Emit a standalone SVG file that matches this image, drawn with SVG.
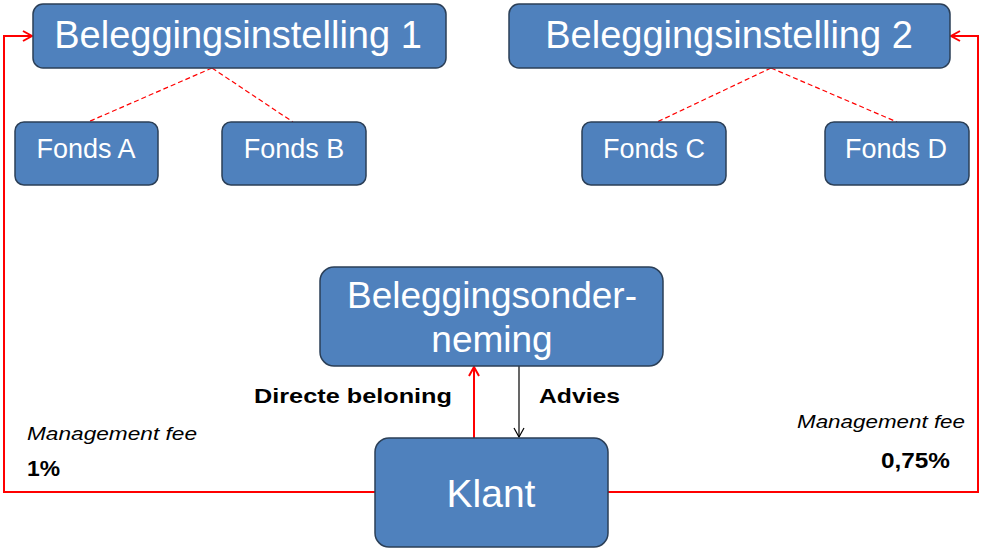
<svg xmlns="http://www.w3.org/2000/svg" width="982" height="549" viewBox="0 0 982 549">
<style>
.box{fill:#4F81BD;stroke:#2B3F57;stroke-width:1.5}
.t{fill:#fff;font-family:"Liberation Sans",Arial,sans-serif;text-anchor:middle}
.lbl{fill:#000;font-family:"Liberation Sans",Arial,sans-serif}
.red{fill:none;stroke:#FF0000;stroke-width:2}
.dash{fill:none;stroke:#FF0000;stroke-width:1.2;stroke-dasharray:5,3}
</style>
<defs>
<marker id="ar" markerWidth="12" markerHeight="12" refX="10" refY="6" orient="auto" markerUnits="userSpaceOnUse"><path d="M1,1 L10,6 L1,11" fill="none" stroke="#FF0000" stroke-width="2"/></marker>
<marker id="ab" markerWidth="12" markerHeight="12" refX="10" refY="6" orient="auto" markerUnits="userSpaceOnUse"><path d="M1,1 L10,6 L1,11" fill="none" stroke="#000" stroke-width="1.2"/></marker>
</defs>
<rect width="982" height="549" fill="#fff"/>
<g id="connectors">
<line class="dash" x1="212" y1="68" x2="88" y2="122"/>
<line class="dash" x1="212" y1="68" x2="293" y2="122"/>
<line class="dash" x1="771" y1="68" x2="657" y2="122"/>
<line class="dash" x1="771" y1="68" x2="897" y2="122"/>
<polyline class="red" points="375,492 4,492 4,36 32,36" marker-end="url(#ar)"/>
<polyline class="red" points="608,492 978,492 978,36 951,36" marker-end="url(#ar)"/>
<line class="red" x1="474" y1="438" x2="474" y2="367" marker-end="url(#ar)"/>
<line x1="519" y1="366" x2="519" y2="437" stroke="#000" stroke-width="1.2" marker-end="url(#ab)"/>
</g>
<g id="belegginsinstelling1"><rect class="box" x="33" y="4" width="413" height="64" rx="10"/><text class="t" x="238" y="48" font-size="38">Beleggingsinstelling  1</text></g>
<g id="belegginsinstelling2"><rect class="box" x="509" y="4" width="441" height="64" rx="10"/><text class="t" x="729" y="48" font-size="38">Beleggingsinstelling  2</text></g>
<g id="fondsA"><rect class="box" x="15" y="122" width="143" height="63" rx="9"/><text class="t" x="86" y="158" font-size="27">Fonds A</text></g>
<g id="fondsB"><rect class="box" x="222" y="122" width="144" height="63" rx="9"/><text class="t" x="294" y="158" font-size="27">Fonds B</text></g>
<g id="fondsC"><rect class="box" x="582" y="122" width="144" height="63" rx="9"/><text class="t" x="654" y="158" font-size="27">Fonds C</text></g>
<g id="fondsD"><rect class="box" x="825" y="122" width="144" height="63" rx="9"/><text class="t" x="896" y="158" font-size="27">Fonds D</text></g>
<g id="beleggingsonderneming"><rect class="box" x="320" y="267" width="343" height="99" rx="14"/><text class="t" x="492" y="308" font-size="37">Beleggingsonder-</text><text class="t" x="492" y="352" font-size="37">neming</text></g>
<g id="klant"><rect class="box" x="375" y="438" width="233" height="109" rx="14"/><text class="t" x="491" y="507" font-size="39">Klant</text></g>
<g id="labels">
<text class="lbl" x="254" y="403" font-size="21" font-weight="bold" textLength="198" lengthAdjust="spacingAndGlyphs">Directe beloning</text>
<text class="lbl" x="539" y="403" font-size="21" font-weight="bold" textLength="81" lengthAdjust="spacingAndGlyphs">Advies</text>
<text class="lbl" x="27" y="440" font-size="19" font-style="italic" textLength="170" lengthAdjust="spacingAndGlyphs">Management fee</text>
<text class="lbl" x="27" y="476" font-size="22" font-weight="bold" textLength="33" lengthAdjust="spacingAndGlyphs">1%</text>
<text class="lbl" x="797" y="428" font-size="19" font-style="italic" textLength="168" lengthAdjust="spacingAndGlyphs">Management fee</text>
<text class="lbl" x="881" y="468" font-size="22" font-weight="bold" textLength="69" lengthAdjust="spacingAndGlyphs">0,75%</text>
</g>
</svg>
